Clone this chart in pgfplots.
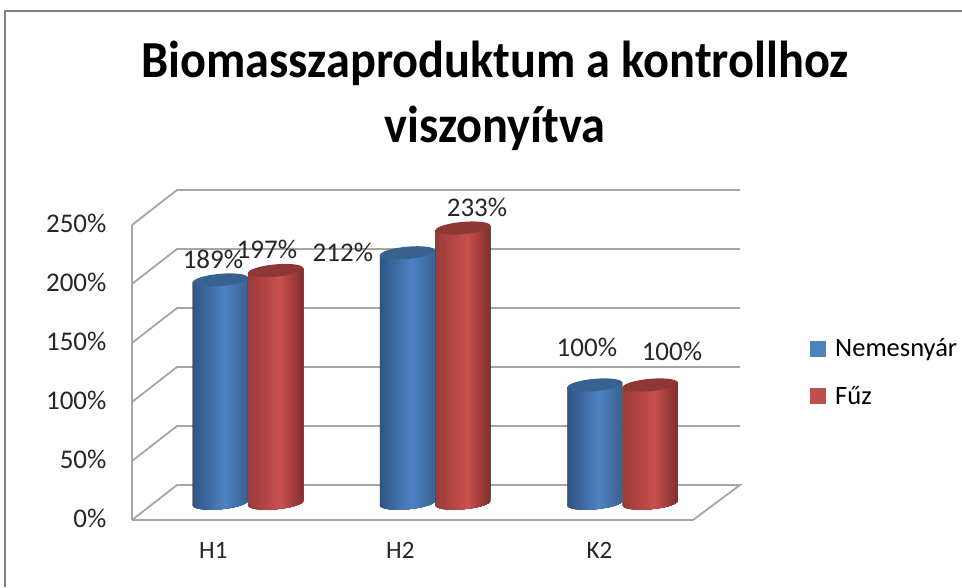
\documentclass[border=0pt]{standalone}
\usepackage{fontspec}
\setmainfont{Carlito}
\usepackage{pgfplots}
\usepackage{pgfplotstable}
\pgfplotsset{compat=1.18}
\definecolor{gridgray}{HTML}{A6A6A6}
\definecolor{bluel}{HTML}{2F5585}
\definecolor{bluem}{HTML}{4F82C4}
\definecolor{bluer}{HTML}{38618F}
\definecolor{bluec}{HTML}{37618F}
\definecolor{redl}{HTML}{9C3B38}
\definecolor{redm}{HTML}{C9504D}
\definecolor{redr}{HTML}{7F2E2C}
\definecolor{redc}{HTML}{8E3735}
\definecolor{legblue}{HTML}{4F81BD}
\definecolor{legred}{HTML}{C0504D}
\pgfplotstableread{
cat nem fuz
0 189 197
1 212 233
2 100 100
}\biomassa
\pgfplotstableread{
lx ly val
-0.187 206.8 189
0.101 215.3 197
0.507 212.7 212
1.223 250.8 233
1.810 132.2 100
2.264 128.8 100
}\cimkek
\newcommand\henger[4]{%
  \pgfmathsetlengthmacro\cylh{\rawy*1.18pt}%
  \pgfmathsetlengthmacro\cylb{\cylh+12pt}%
  \tikz{%
    \path[use as bounding box,draw=none] (-32pt,-\cylb) rectangle (32pt,\cylb);
    \begin{scope}[yslant=0.085]
      \begin{scope}
        \clip (-27.5pt,-\cylh) -- (-27.5pt,0pt) -- (27.5pt,0pt) -- (27.5pt,-\cylh)
          arc[start angle=0,end angle=-180,x radius=27.5pt,y radius=6.2pt] -- cycle;
        \foreach \i in {0,...,27}{%
          \pgfmathsetmacro\px{-27.5+\i*55/28}%
          \ifnum\i<16
            \pgfmathsetmacro\p{\i/16*100}%
            \edef\c{#2!\p!#1}%
          \else
            \pgfmathsetmacro\p{(\i-16)/12*100}%
            \edef\c{#3!\p!#2}%
          \fi
          \fill[color=\c] (\px pt,-\cylb) rectangle (27.5pt,2pt);
        }
      \end{scope}
      \path[fill=#4,draw=none] (-27.5pt,0pt)
        arc[start angle=180,end angle=-180,x radius=27.5pt,y radius=6.2pt] -- cycle;
    \end{scope}
  }%
}
\pgfplotsset{
  cyl/.style n args={4}{
    only marks, mark=none, forget plot,
    visualization depends on={y \as \rawy},
    nodes near coords={\henger{#1}{#2}{#3}{#4}},
    every node near coord/.append style={anchor=center,inner sep=0pt,outer sep=0pt,draw=none},
  }
}
\begin{document}
\begin{tikzpicture}
\path[use as bounding box] (0,0) rectangle (962pt,587pt);
\draw[gray,line width=1.5pt] (5pt,0pt) -- (5pt,576pt) -- (962pt,576pt);
\node[xscale=0.93,align=center,font=\fontsize{52}{65}\selectfont\bfseries,anchor=center] at (495pt,491pt)
  {Biomasszaproduktum a kontrollhoz\\viszonyítva};

% back wall
\begin{axis}[
  at={(177pt,102pt)},anchor=south west,width=563pt,height=295pt,scale only axis,
  xmin=177,xmax=740,ymin=0,ymax=250,clip=false,
  axis lines=none,
]
\addplot[gridgray,line width=1.8pt] coordinates {(132,220.34) (177,250) (740,250)};
\addplot[gridgray,line width=1.8pt] coordinates {(132,170.34) (177,200) (740,200)};
\addplot[gridgray,line width=1.8pt] coordinates {(132,120.34) (177,150) (740,150)};
\addplot[gridgray,line width=1.8pt] coordinates {(132,70.34) (177,100) (740,100)};
\addplot[gridgray,line width=1.8pt] coordinates {(132,20.34) (177,50) (740,50)};
\addplot[gridgray,line width=1.8pt] coordinates {(132,-29.66) (177,0) (740,0) (693,-29.66)};
\end{axis}

% front plane: tick labels
\begin{axis}[
  at={(132pt,67pt)},anchor=south west,width=561pt,height=295pt,scale only axis,
  xmin=0,xmax=3,ymin=0,ymax=250,
  axis x line=bottom,axis y line=left,
  axis line style={gridgray,line width=1.8pt,-},
  major tick length=0pt,
  ytick={0,50,...,250},
  yticklabel={\pgfmathprintnumber{\tick}\%},
  xtick={0.435,1.435,2.5},xticklabels={H1,H2,K2},
  /pgf/number format/assume math mode=true,
  tick label style={text=black!85},
  yticklabel style={font=\fontsize{27}{30}\selectfont,xshift=-22pt,yshift=1.5pt},
  xticklabel style={font=\fontsize{25}{28}\selectfont,yshift=-19pt},
]
\end{axis}

% cylinders
\begin{axis}[
  at={(177pt,84pt)},anchor=south west,width=563pt,height=295pt,scale only axis,
  xmin=-0.379,xmax=2.6275,ymin=0,ymax=250,clip=false,hide axis,
  legend style={draw=none,fill=none,at={(rel axis cs:1.124,0.444)},anchor=west,
    inner sep=0pt,outer sep=0pt,row sep=24pt,font=\fontsize{26.5}{30}\selectfont,
    /tikz/every even column/.append style={column sep=0pt}},
  legend cell align=left,
]
\addplot[cyl={bluel}{bluem}{bluer}{bluec}] table[x expr=\coordindex-0.148,y=nem] {\biomassa};
\addplot[cyl={redl}{redm}{redr}{redc}] table[x expr=\coordindex+0.148,y=fuz] {\biomassa};
\addplot[only marks,mark=none,forget plot,
  point meta=explicit,
  nodes near coords={\pgfmathprintnumber[precision=0,/pgf/number format/assume math mode=true]{\pgfplotspointmeta}\%},
  every node near coord/.append style={anchor=center,font=\fontsize{27}{30}\selectfont,text=black!85,inner sep=0pt},
] table[x=lx,y=ly,meta=val] {\cimkek};
\addlegendimage{legend image code/.code={\fill[legblue] (0pt,-7.5pt) rectangle (15pt,7.5pt);}}
\addlegendentry{\hspace{8pt}Nemesnyár}
\addlegendimage{legend image code/.code={\fill[legred] (0pt,-7.5pt) rectangle (15pt,7.5pt);}}
\addlegendentry{\hspace{8pt}Fűz}
\end{axis}
\end{tikzpicture}
\end{document}
